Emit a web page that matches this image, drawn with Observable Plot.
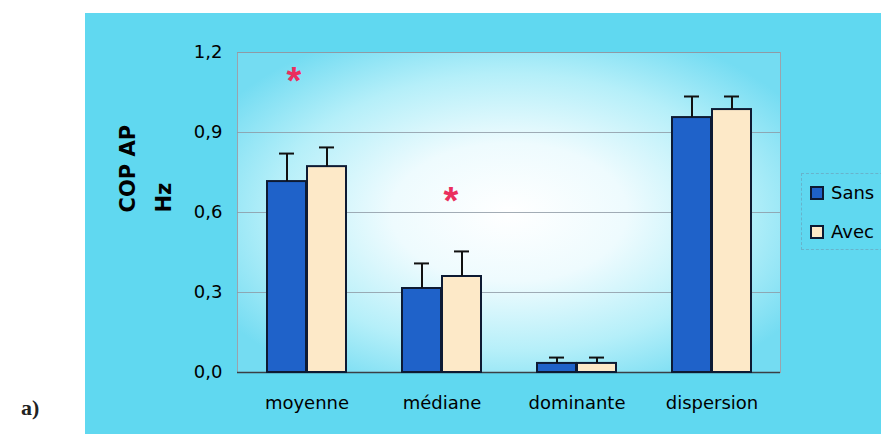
<!DOCTYPE html>
<html>
<head>
<meta charset="utf-8">
<script src="https://cdn.jsdelivr.net/npm/d3@7"></script>
<script src="https://cdn.jsdelivr.net/npm/@observablehq/plot@0.6"></script>
<style>
  html, body { margin: 0; padding: 0; background: #fff; }
  #wrap { position: relative; width: 881px; height: 434px; overflow: hidden; background: #fff; }
  #panel { position: absolute; left: 85px; top: 13px; width: 796px; height: 421px; background: #60d8f0; }
  #chart { position: absolute; left: 0; top: 0; }
  #chart svg { background: transparent; overflow: visible; }
  #tag { position: absolute; left: 21px; top: 395px; font: bold 22px "Liberation Serif", "DejaVu Serif", serif; color: #222; }
  #legend { position: absolute; left: 801px; top: 173px; width: 110px; height: 75px;
            border: 1px dashed rgba(110,150,175,0.55); font: 18px "DejaVu Sans", sans-serif; color: #000; }
  .item { position: absolute; left: 8px; display: flex; align-items: center; }
  .sw { width: 10px; height: 10px; border: 2px solid #0d1a33; margin-right: 7px; }
</style>
</head>
<body>
<svg width="0" height="0" style="position:absolute">
  <defs>
    <radialGradient id="plotGrad" cx="0.5" cy="0.5" r="0.62">
      <stop offset="0" stop-color="#ffffff"/>
      <stop offset="0.35" stop-color="#eefbfe"/>
      <stop offset="0.7" stop-color="#b5eff9"/>
      <stop offset="1" stop-color="#74dcf2"/>
    </radialGradient>
  </defs>
</svg>
<div id="wrap">
  <div id="panel"></div>
  <div id="chart"></div>
  <div id="tag">a)</div>
  <div id="legend">
    <div class="item" style="top:8px"><div class="sw" style="background:#1f62c9"></div><span>Sans</span></div>
    <div class="item" style="top:47px"><div class="sw" style="background:#fde9c8"></div><span>Avec</span></div>
  </div>
</div>
<script>
const categories = ["moyenne", "médiane", "dominante", "dispersion"];
const sans = [0.716, 0.315, 0.034, 0.956];
const avec = [0.772, 0.36, 0.034, 0.986];
const sansErr = [0.105, 0.094, 0.022, 0.079];
const avecErr = [0.072, 0.094, 0.022, 0.049];
const yTicks = [0, 0.3, 0.6, 0.9, 1.2];
const starCategories = ["moyenne", "médiane"];
const starValues = [1.11, 0.66];

const data = categories.map((c, i) => ({cat: c, sans: sans[i], avec: avec[i], sTop: sans[i] + sansErr[i], aTop: avec[i] + avecErr[i]}));
const stars = starCategories.map((c, i) => ({cat: c, y: starValues[i]}));

const blue = "#1f62c9", cream = "#fde9c8", edge = "#0d1a33", starColor = "#ea2f5e";

const chart = Plot.plot({
  width: 881,
  height: 434,
  marginLeft: 237,
  marginRight: 101,
  marginTop: 52,
  marginBottom: 62,
  style: {background: "transparent", fontFamily: "DejaVu Sans", fontSize: "18px", color: "#000"},
  x: {domain: categories, padding: 0, label: null},
  y: {domain: [0, 1.2], label: null},
  marks: [
    Plot.frame({fill: "url(#plotGrad)", stroke: "#9aa3ad"}),
    Plot.gridY(yTicks.slice(1), {stroke: "#8c97a3", strokeOpacity: 0.8, strokeWidth: 1}),
    Plot.ruleY([0], {stroke: "#3a3f45", strokeWidth: 1.5}),
    Plot.axisY(yTicks, {tickSize: 0, tickPadding: 15, fontSize: 18, tickFormat: d => d.toFixed(1).replace(".", ","), label: null}),
    Plot.axisX({tickSize: 0, tickPadding: 24, fontSize: 18, label: null}),
    Plot.barY(data, {x: "cat", y: "sans", fill: blue, stroke: edge, strokeWidth: 2, insetLeft: 28, insetRight: 68}),
    Plot.barY(data, {x: "cat", y: "avec", fill: cream, stroke: edge, strokeWidth: 2, insetLeft: 68, insetRight: 28}),
    Plot.ruleX(data, {x: "cat", y1: "sans", y2: "sTop", dx: -20, stroke: "#111", strokeWidth: 2}),
    Plot.ruleX(data, {x: "cat", y1: "avec", y2: "aTop", dx: 20, stroke: "#111", strokeWidth: 2}),
    Plot.tickY(data, {x: "cat", y: "sTop", insetLeft: 40, insetRight: 80, stroke: "#111", strokeWidth: 2}),
    Plot.tickY(data, {x: "cat", y: "aTop", insetLeft: 80, insetRight: 40, stroke: "#111", strokeWidth: 2}),
    Plot.text(stars.slice(0, 1), {x: "cat", y: "y", text: () => "*", fontSize: 38, fontWeight: "bold", fontFamily: "Liberation Sans", fill: starColor, dx: -13, dy: 5}),
    Plot.text(stars.slice(1, 2), {x: "cat", y: "y", text: () => "*", fontSize: 38, fontWeight: "bold", fontFamily: "Liberation Sans", fill: starColor, dx: 9, dy: 5}),
    Plot.text(["COP AP"], {frameAnchor: "left", text: d => d, rotate: -90, dx: -109, fontSize: 21, fontWeight: "bold"}),
    Plot.text(["Hz"], {frameAnchor: "left", text: d => d, rotate: -90, dx: -73, fontSize: 21, fontWeight: "bold"})
  ]
});
document.getElementById("chart").appendChild(chart);
</script>
</body>
</html>
